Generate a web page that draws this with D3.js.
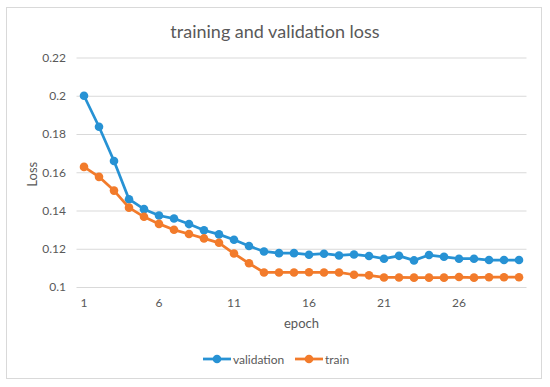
<!DOCTYPE html>
<html>
<head>
<meta charset="utf-8">
<script src="https://cdn.jsdelivr.net/npm/d3@7"></script>
<style>
  html, body { margin: 0; padding: 0; background: #fff; }
  svg { display: block; font-family: Lato, "Open Sans", sans-serif; }
</style>
</head>
<body>
<svg id="chart" width="550" height="387"></svg>
<script>
const epochs = d3.range(1, 31);
const validation = [0.2, 0.1838, 0.1659, 0.1459, 0.1407, 0.1374, 0.1358, 0.1329, 0.1297, 0.1275,
  0.1247, 0.1214, 0.1186, 0.1177, 0.1177, 0.1169, 0.1174, 0.1165, 0.117, 0.1162,
  0.1148, 0.1163, 0.1139, 0.1167, 0.1158, 0.1148, 0.1148, 0.1141, 0.1141, 0.1141];
const train = [0.1628, 0.1576, 0.1504, 0.1415, 0.1367, 0.133, 0.1299, 0.1277, 0.1254, 0.1231,
  0.1175, 0.1124, 0.1076, 0.1076, 0.1076, 0.1077, 0.1076, 0.1076, 0.1064, 0.1061,
  0.105, 0.105, 0.1049, 0.1049, 0.1049, 0.1052, 0.1049, 0.1051, 0.1051, 0.1051];
const yTicks = [0.1, 0.12, 0.14, 0.16, 0.18, 0.2, 0.22];
const xTickLabels = [1, 6, 11, 16, 21, 26];

const series = [
  { name: 'validation', values: validation, color: '#2792d4' },
  { name: 'train', values: train, color: '#f27b2b' },
];

const svg = d3.select('#chart');
const textColor = '#595959';

// chart frame
svg.append('rect')
  .attr('x', 6.5).attr('y', 7.5)
  .attr('width', 535).attr('height', 371)
  .attr('fill', '#fff')
  .attr('stroke', '#d9d9d9');

const plot = { left: 76.5, right: 526.5, top: 57.5, bottom: 287 };

const x = d3.scaleBand().domain(epochs).range([plot.left, plot.right]);
const y = d3.scaleLinear().domain([0.1, 0.22]).range([plot.bottom, plot.top]);
const cx = (d) => x(d) + x.bandwidth() / 2;

// gridlines
svg.append('g')
  .attr('transform', `translate(${plot.left},0)`)
  .call(d3.axisLeft(y).tickValues(yTicks).tickSize(-(plot.right - plot.left)).tickFormat(() => ''))
  .call((g) => g.select('.domain').remove())
  .call((g) => g.selectAll('line').attr('stroke', '#d9d9d9'));

// y tick labels
svg.append('g')
  .attr('transform', 'translate(70,0)')
  .call(d3.axisLeft(y).tickValues(yTicks).tickSize(0).tickPadding(4).tickFormat((d) => d3.format('')(+d.toFixed(2))))
  .call((g) => g.select('.domain').remove())
  .call((g) => g.selectAll('text').attr('fill', textColor).attr('font-size', 12).attr('font-family', 'Lato, sans-serif'));

// x tick labels
svg.append('g')
  .attr('transform', `translate(0,${plot.bottom})`)
  .call(d3.axisBottom(x).tickValues(xTickLabels).tickSize(0).tickPadding(11))
  .call((g) => g.select('.domain').remove())
  .call((g) => g.selectAll('text').attr('fill', textColor).attr('font-size', 12).attr('font-family', 'Lato, sans-serif'));

// title and axis titles
svg.append('text')
  .attr('x', 275).attr('y', 38)
  .attr('text-anchor', 'middle')
  .attr('fill', textColor)
  .attr('font-size', 18)
  .text('training and validation loss');

svg.append('text')
  .attr('x', (plot.left + plot.right) / 2).attr('y', 328)
  .attr('text-anchor', 'middle')
  .attr('fill', textColor)
  .attr('font-size', 13)
  .text('epoch');

svg.append('text')
  .attr('transform', `translate(37,${(plot.top + plot.bottom) / 2 + 2}) rotate(-90)`)
  .attr('text-anchor', 'middle')
  .attr('fill', textColor)
  .attr('font-size', 13)
  .text('Loss');

// lines + markers
const line = d3.line().x((d, i) => cx(epochs[i])).y((d) => y(d));

series.forEach((s) => {
  svg.append('path')
    .datum(s.values)
    .attr('fill', 'none')
    .attr('stroke', s.color)
    .attr('stroke-width', 2.75)
    .attr('stroke-linejoin', 'round')
    .attr('d', line);

  svg.append('g')
    .selectAll('circle')
    .data(s.values)
    .join('circle')
    .attr('cx', (d, i) => cx(epochs[i]))
    .attr('cy', (d) => y(d))
    .attr('r', 4.3)
    .attr('fill', s.color);
});

// legend
const legendX = [203, 295];
const legend = svg.append('g').attr('transform', 'translate(0,359)');
series.forEach((s, i) => {
  const gx = legendX[i];
  legend.append('line')
    .attr('x1', gx).attr('x2', gx + 28)
    .attr('stroke', s.color).attr('stroke-width', 2.75);
  legend.append('circle')
    .attr('cx', gx + 14).attr('r', 4.3).attr('fill', s.color);
  legend.append('text')
    .attr('x', gx + 30).attr('y', 4.5)
    .attr('fill', textColor)
    .attr('font-size', 12)
    .text(s.name);
});
</script>
</body>
</html>
